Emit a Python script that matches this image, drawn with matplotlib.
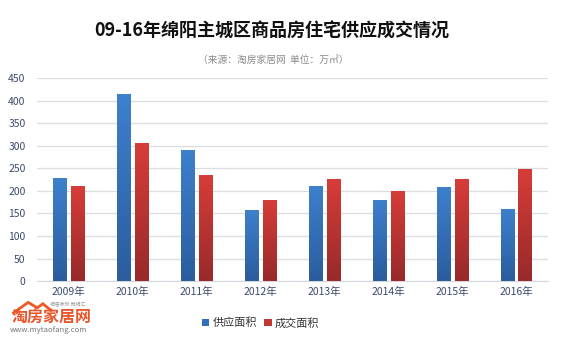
import matplotlib.pyplot as plt
import numpy as np
from matplotlib.colors import LinearSegmentedColormap
from matplotlib.patches import Polygon

plt.rcParams['font.family'] = ['Noto Sans CJK SC', 'DejaVu Sans']

years = ['2009年', '2010年', '2011年', '2012年', '2013年', '2014年', '2015年', '2016年']
supply = [229, 415, 291, 158, 211, 180, 209, 160]
deal = [211, 306, 235, 180, 227, 200, 227, 249]
series_names = ['供应面积', '成交面积']

blue_cmap = LinearSegmentedColormap.from_list('b', ['#2b5d9e', '#3d80cc'])
red_cmap = LinearSegmentedColormap.from_list('r', ['#982a2a', '#d73d38'])

fig = plt.figure(figsize=(5.64, 3.39), dpi=100)
ax = fig.add_axes([0.065, 0.171, 0.907, 0.598])

pos = np.arange(len(years))
w = 0.21
off = 0.14
b1 = ax.bar(pos - off, supply, w, color='#3370b8', zorder=2, label=series_names[0])
b2 = ax.bar(pos + off, deal, w, color='#c13532', zorder=2, label=series_names[1])

# vertical gradient inside each bar
grad = np.linspace(0, 1, 100).reshape(-1, 1)
for bars, cmap in ((b1, blue_cmap), (b2, red_cmap)):
    for p in bars:
        x0, h = p.get_x(), p.get_height()
        im = ax.imshow(grad, cmap=cmap, origin='lower', aspect='auto',
                       extent=(x0, x0 + p.get_width(), 0, h), zorder=3)
        im.set_clip_path(p)

ax.set_xlim(-0.5, len(years) - 0.5)
ax.set_ylim(0, 450)
ax.set_yticks(np.arange(0, 451, 50))
ax.set_xticks(pos)
ax.set_xticklabels(years)
ax.grid(axis='y', color='#dadde3', linewidth=0.9, zorder=0)
for s in ['top', 'right', 'left']:
    ax.spines[s].set_visible(False)
ax.spines['bottom'].set_color('#d4d8de')
ax.tick_params(length=0, labelsize=7.5, colors='#3b4a6b')
ax.tick_params(axis='x', pad=4)
ax.tick_params(axis='y', pad=8)

fig.text(0.482, 0.908, '09-16年绵阳主城区商品房住宅供应成交情况', ha='center', va='center',
         fontsize=13, fontweight='bold', color='#111111')
fig.text(0.484, 0.823, '（来源：淘房家居网  单位：万㎡）', ha='center', va='center',
         fontsize=7, color='#8a8a8a')

leg = fig.legend(handles=[b1, b2], loc='center', bbox_to_anchor=(0.462, 0.047), ncol=2,
                 frameon=False, fontsize=8, handlelength=0.7, handleheight=0.7,
                 handletextpad=0.3, columnspacing=0.6)
for t in leg.get_texts():
    t.set_color('#333333')

# site logo bottom-left
roof = Polygon([[0.022, 0.075], [0.05, 0.108], [0.066, 0.092], [0.076, 0.104], [0.092, 0.082]],
               closed=False, fill=False, edgecolor='#ee5a24', linewidth=2.0,
               transform=fig.transFigure)
fig.add_artist(roof)
fig.text(0.02, 0.062, '淘房家居网', fontsize=11.5, fontweight='bold', color='#e8552a',
         ha='left', va='center')
fig.text(0.018, 0.026, 'www.mytaofang.com', fontsize=5.5, color='#777777',
         ha='left', va='center')
fig.text(0.088, 0.1, '相居家修 我相汇', fontsize=3.5, color='#999999', ha='left', va='center')

fig.savefig('out.png', dpi=100)
